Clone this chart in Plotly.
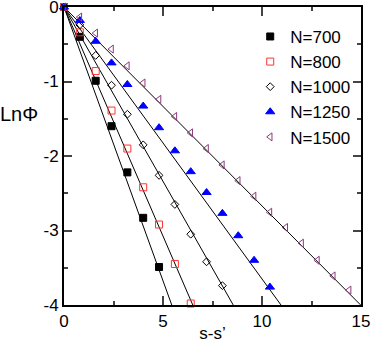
import plotly.graph_objects as go

# step along s-s'
ds = [0.0, 0.8, 1.6, 2.4, 3.2, 4.0, 4.8, 5.6, 6.4, 7.2, 8.0, 8.8, 9.6, 10.4, 11.2, 12.0, 12.8, 13.6, 14.4]

names = ["N=700", "N=800", "N=1000", "N=1250", "N=1500"]

lnphi_700 = [0, -0.40, -0.99, -1.60, -2.22, -2.83, -3.49]
lnphi_800 = [0, -0.34, -0.86, -1.39, -1.90, -2.42, -2.92, -3.45, -3.98]
lnphi_1000 = [0, -0.24, -0.65, -1.05, -1.44, -1.85, -2.26, -2.65, -3.05, -3.42, -3.74]
lnphi_1250 = [0, -0.18, -0.46, -0.75, -1.04, -1.33, -1.62, -1.93, -2.21, -2.49, -2.77,
              -3.07, -3.40, -3.76]
lnphi_1500 = [0, -0.135, -0.35, -0.565, -0.79, -1.02, -1.24, -1.47, -1.69, -1.90, -2.12,
              -2.33, -2.54, -2.755, -2.96, -3.17, -3.40, -3.61, -3.80]

# slopes of the fitted straight lines
slopes = [-0.735, -0.615, -0.468, -0.365, -0.267]

x_ticks = [0, 5, 10, 15]
y_ticks = [0, -1, -2, -3, -4]
y_ticktext = ["0", "-1", "-2", "-3", "-4"]

series = [lnphi_700, lnphi_800, lnphi_1000, lnphi_1250, lnphi_1500]
symbols = ["square", "square-open", "diamond-open", "triangle-up", "triangle-left-open"]
colors = ["black", "#ff3333", "black", "#0000ff", "#8b3a7a"]
sizes = [7, 7, 6, 8, 7]

fig = go.Figure()

# fitted lines
for k in slopes:
    xs = [0, 16]
    fig.add_trace(go.Scatter(x=xs, y=[k * x for x in xs], mode="lines",
                             line=dict(color="black", width=1), showlegend=False,
                             hoverinfo="skip"))

for name, ys, sym, col, sz in zip(names, series, symbols, colors, sizes):
    fig.add_trace(go.Scatter(x=ds[:len(ys)], y=ys, mode="markers", name=name,
                             marker=dict(symbol=sym, size=sz, color=col,
                                         line=dict(color=col, width=1)),
                             cliponaxis=False))

font = dict(family="Liberation Sans, Arial, sans-serif", size=17, color="black")

fig.update_layout(
    width=373, height=343,
    margin=dict(l=64, r=12, t=7, b=38, autoexpand=False),
    plot_bgcolor="white", paper_bgcolor="white",
    font=font,
    legend=dict(x=0.627, y=0.96, xanchor="left", yanchor="top",
                bgcolor="rgba(0,0,0,0)", font=font, itemsizing="trace"),
    annotations=[dict(text="LnΦ", x=-0.081, y=0.64, xref="paper", yref="paper",
                      xanchor="right", yanchor="middle", showarrow=False,
                      font=dict(family="Liberation Sans, Arial, sans-serif", size=20))],
)

fig.update_xaxes(range=[0, 15], tickvals=x_ticks, ticks="inside", ticklen=9, tickwidth=1.5,
                 minor=dict(dtick=2.5, ticks="inside", ticklen=4, tickwidth=1.5),
                 showline=True, linewidth=2, linecolor="black", mirror="allticks",
                 showgrid=False, zeroline=False, automargin=False,
                 ticklabeloverflow="allow",
                 title=dict(text="s-s’", standoff=7,
                            font=dict(family="Liberation Sans, Arial, sans-serif", size=17)))
fig.update_yaxes(range=[-4, 0], tickvals=y_ticks, ticktext=y_ticktext, ticks="inside",
                 ticklen=8, tickwidth=1.5,
                 minor=dict(dtick=0.5, ticks="inside", ticklen=4, tickwidth=1.5),
                 showline=True, linewidth=2, linecolor="black", mirror="allticks",
                 showgrid=False, zeroline=False, automargin=False,
                 ticklabeloverflow="allow")

# drop the browser's default page margin so the figure sits at the window corner
fig.write_html("out.html", config={"displayModeBar": False},
               post_script="document.body.style.margin='0';")
